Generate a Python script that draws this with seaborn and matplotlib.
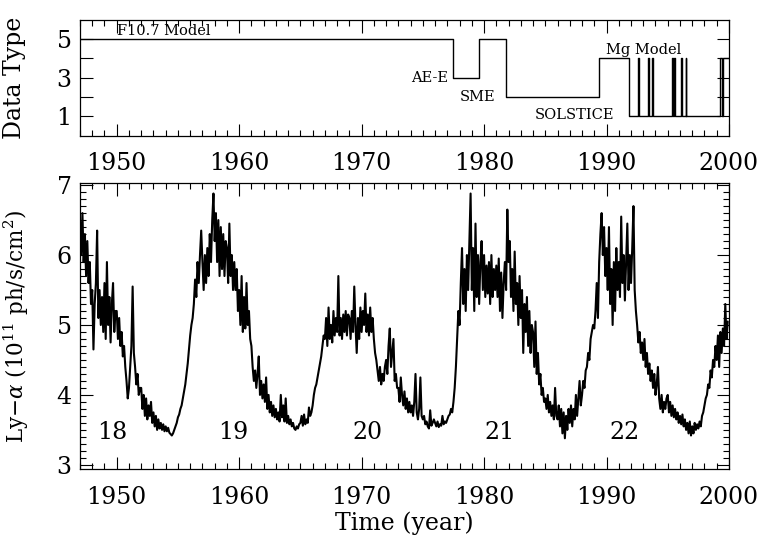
import numpy as np
import matplotlib
matplotlib.use('Agg')
import matplotlib.pyplot as plt
from matplotlib.ticker import MultipleLocator, FixedLocator
import seaborn as sns

# Type de donnees (panneau du haut) : instants de changement et niveau
type_time = [1947.0, 1977.5, 1979.6, 1981.8, 1989.35, 1991.8,
             1992.58, 1992.63, 1993.4, 1993.46, 1993.72, 1993.78,
             1995.38, 1995.43, 1995.55, 1995.6, 1996.12, 1996.17,
             1996.48, 1996.53, 1999.3, 1999.45, 1999.55, 2000.0]
type_val = [5, 3, 5, 2, 4, 1,
            4, 1, 4, 1, 4, 1,
            4, 1, 4, 1, 4, 1,
            4, 1, 4, 1, 4, 4]

# Flux Ly-alpha, 10 valeurs par an (1947.0 -> 1999.9)
lya_flux = [
    6.5, 6.0, 6.6, 5.9, 6.3, 5.7, 6.2, 5.6, 5.9, 5.3,      # 1947
    5.5, 4.65, 5.3, 5.6, 6.35, 5.1, 5.5, 5.0, 5.4, 4.9,    # 1948
    5.6, 4.8, 5.9, 5.0, 5.4, 4.75, 5.3, 5.6, 4.9, 5.2,     # 1949
    5.2, 4.8, 5.1, 4.7, 4.9, 4.55, 4.7, 4.4, 4.2, 3.95,    # 1950
    4.1, 4.4, 4.7, 5.55, 4.6, 4.4, 4.15, 4.3, 4.0, 4.1,    # 1951
    4.1, 3.8, 4.0, 3.7, 3.95, 3.65, 3.85, 3.7, 3.9, 3.6,   # 1952
    3.75, 3.55, 3.7, 3.5, 3.65, 3.52, 3.6, 3.5, 3.58, 3.48,  # 1953
    3.55, 3.48, 3.53, 3.46, 3.44, 3.42, 3.45, 3.5, 3.55, 3.6,  # 1954
    3.68, 3.72, 3.8, 3.85, 3.95, 4.05, 4.15, 4.3, 4.45, 4.65,  # 1955
    4.85, 5.0, 5.1, 5.3, 5.65, 5.4, 5.9, 5.6, 6.0, 6.35,   # 1956
    5.9, 5.5, 6.0, 5.6, 6.1, 5.7, 6.3, 5.9, 6.5, 6.88,     # 1957
    6.2, 6.6, 5.9, 6.5, 5.7, 6.4, 5.8, 6.3, 5.7, 6.2,      # 1958
    6.1, 5.6, 6.45, 5.7, 6.0, 5.5, 5.9, 5.5, 5.8, 5.2,     # 1959
    5.5, 5.0, 5.7, 4.9, 5.4, 4.95, 5.6, 5.0, 5.2, 4.8,     # 1960
    4.7, 4.4, 4.2, 4.35, 4.1, 4.3, 4.55, 4.0, 4.2, 3.95,   # 1961
    4.15, 3.9, 4.25, 3.8, 4.0, 3.75, 3.9, 3.7, 3.85, 3.68,  # 1962
    3.8, 3.65, 3.75, 3.62, 4.0, 3.68, 3.85, 3.62, 3.95, 3.6,  # 1963
    3.7, 3.58, 3.65, 3.55, 3.6, 3.52, 3.5, 3.55, 3.52, 3.58,  # 1964
    3.6, 3.7, 3.56, 3.72, 3.58, 3.65, 3.6, 3.82, 3.7, 3.75,  # 1965
    3.85, 4.0, 4.1, 4.15, 4.25, 4.35, 4.45, 4.55, 4.7, 4.85,  # 1966
    4.8, 5.1, 4.7, 5.25, 4.8, 5.0, 4.75, 5.2, 4.85, 5.1,   # 1967
    4.9, 5.7, 4.85, 5.1, 4.8, 5.15, 4.9, 5.2, 4.85, 5.15,  # 1968
    5.1, 4.8, 5.2, 4.9, 5.55, 5.0, 4.6, 5.1, 4.8, 5.25,    # 1969
    4.9, 5.2, 5.0, 5.45, 4.9, 5.15, 4.85, 5.25, 4.9, 5.1,  # 1970
    4.8, 4.6, 4.5, 4.35, 4.2, 4.4, 4.15, 4.3, 4.2, 4.4,    # 1971
    4.5, 4.3, 4.7, 4.95, 4.4, 4.6, 4.8, 4.2, 4.3, 4.1,     # 1972
    4.1, 3.9, 4.25, 4.0, 3.85, 4.05, 3.8, 3.95, 3.75, 3.9,  # 1973
    3.75, 3.85, 3.7, 3.9, 4.3, 3.75, 3.65, 3.8, 4.25, 3.7,  # 1974
    3.65, 3.7, 3.58, 3.62, 3.55, 3.52, 3.78, 3.56, 3.6, 3.65,  # 1975
    3.6, 3.55, 3.62, 3.54, 3.58, 3.56, 3.7, 3.58, 3.62, 3.6,  # 1976
    3.65, 3.7, 3.72, 3.8, 3.75, 3.9, 4.1, 4.4, 4.8, 5.2,   # 1977
    5.0, 5.6, 6.1, 5.3, 5.8, 5.2, 6.0, 5.5, 6.2, 6.88,     # 1978
    5.5, 6.1, 5.2, 6.45, 5.4, 6.0, 5.3, 5.9, 6.2, 5.5,     # 1979
    6.0, 5.4, 5.85, 5.45, 5.9, 5.3, 6.0, 5.4, 5.8, 5.5,    # 1980
    5.85, 5.4, 5.95, 5.2, 5.75, 5.1, 5.6, 5.9, 5.5, 6.65,  # 1981
    5.9, 6.2, 5.4, 5.8, 5.2, 6.05, 5.3, 5.6, 5.0, 5.7,     # 1982
    5.1, 5.5, 4.6, 5.3, 4.9, 5.4, 4.7, 5.2, 4.6, 5.0,      # 1983
    4.9, 4.4, 5.05, 4.3, 4.6, 4.15, 4.3, 4.0, 4.1, 3.9,    # 1984
    3.95, 3.8, 4.0, 3.75, 3.9, 3.7, 3.85, 3.65, 4.1, 3.7,  # 1985
    3.65, 3.85, 3.55, 3.8, 3.45, 3.75, 3.38, 3.7, 3.5, 3.8,  # 1986
    3.6, 3.85, 3.55, 3.8, 3.65, 4.0, 3.7, 3.95, 4.2, 3.85,  # 1987
    4.0, 4.2, 4.1, 4.35, 4.4, 4.6, 4.5, 4.8, 4.9, 5.0,     # 1988
    4.95, 5.2, 5.6, 5.1, 5.9, 6.3, 6.6, 6.0, 6.4, 5.7,     # 1989
    6.1, 5.5, 6.4, 5.3, 5.8, 5.0, 5.9, 5.2, 6.1, 5.5,      # 1990
    5.9, 5.4, 6.55, 5.6, 6.0, 5.35, 5.9, 6.45, 5.5, 6.0,   # 1991
    5.6, 6.1, 6.7, 5.5, 5.2, 5.0, 4.75, 4.9, 4.6, 4.75,    # 1992
    4.5, 4.8, 4.4, 4.6, 4.3, 4.45, 4.2, 4.35, 4.1, 4.3,    # 1993
    4.0, 4.15, 4.4, 3.95, 3.8, 4.0, 3.75, 3.9, 3.8, 3.95,  # 1994
    4.0, 3.75, 3.9, 3.7, 3.85, 3.68, 3.8, 3.65, 3.75, 3.6,  # 1995
    3.7, 3.58, 3.72, 3.55, 3.65, 3.5, 3.6, 3.45, 3.62, 3.42,  # 1996
    3.55, 3.45, 3.6, 3.5, 3.58, 3.52, 3.62, 3.55, 3.7, 3.75,  # 1997
    3.85, 3.95, 4.0, 4.15, 4.1, 4.35, 4.25, 4.5, 4.4, 4.7,  # 1998
    4.5, 4.85, 4.4, 4.9, 4.6, 4.95, 4.7, 5.3, 4.8, 5.05,   # 1999
]
lya_years = 1947 + np.arange(len(lya_flux)) / 10

# Numeros des cycles solaires
cycle_labels = ['18', '19', '20', '21', '22']
cycle_x = [1949.6, 1959.5, 1970.5, 1981.3, 1991.5]

# Etiquettes des sources de donnees
source_labels = ['F10.7 Model', 'AE-E', 'SME', 'SOLSTICE', 'Mg Model']

sns.set_theme(style='ticks')
plt.rcParams['font.family'] = ['DejaVu Serif']
plt.rcParams['mathtext.fontset'] = 'dejavuserif'
plt.rcParams['text.color'] = 'black'
plt.rcParams['axes.labelcolor'] = 'black'


def style_axis(ax):
    for sp in ax.spines.values():
        sp.set_linewidth(0.9)
        sp.set_color('black')
    ax.tick_params(which='both', direction='in', top=True, right=True,
                   colors='black', labelsize=17, width=0.8)
    ax.tick_params(which='major', length=9)
    ax.tick_params(which='minor', length=4.5)
    ax.tick_params(axis='x', pad=12)
    ax.tick_params(axis='y', pad=6)
    ax.xaxis.set_major_locator(MultipleLocator(10))
    ax.xaxis.set_minor_locator(MultipleLocator(1))
    ax.set_xlim(1947, 2000)


fig = plt.figure(figsize=(7.61, 5.41), dpi=100)
ax1 = fig.add_axes([0.1051, 0.749, 0.8528, 0.2144])
ax2 = fig.add_axes([0.1051, 0.133, 0.8528, 0.5287])

# Panneau du haut : type de donnees
sns.lineplot(x=type_time, y=type_val, ax=ax1, color='black', lw=1.0,
             drawstyle='steps-post', estimator=None, sort=False)
style_axis(ax1)
ax1.set_ylim(0, 6)
ax1.yaxis.set_major_locator(FixedLocator([1, 2, 3, 4, 5]))
ax1.set_yticklabels(['1', '', '3', '', '5'])
ax1.set_ylabel('Data Type', fontsize=17)
ax1.yaxis.set_label_coords(-0.083, 0.5)

fs = 10.5
ax1.text(1950.0, 5.04, source_labels[0], fontsize=fs, ha='left', va='bottom')
ax1.text(1977.1, 3.0, source_labels[1], fontsize=fs, ha='right', va='center')
ax1.text(1979.5, 2.0, source_labels[2], fontsize=fs, ha='center', va='center')
ax1.text(1987.4, 1.05, source_labels[3], fontsize=fs, ha='center', va='center')
ax1.text(1993.0, 4.45, source_labels[4], fontsize=fs, ha='center', va='center')

# Panneau du bas : flux Ly-alpha
sns.lineplot(x=lya_years, y=lya_flux, ax=ax2, color='black', lw=1.5,
             estimator=None)
style_axis(ax2)
ax2.set_ylim(2.94, 7.03)
ax2.yaxis.set_major_locator(MultipleLocator(1))
ax2.yaxis.set_minor_locator(MultipleLocator(0.1))
ax2.set_ylabel(r'Ly$-\alpha$ (10$^{11}$ ph/s/cm$^2$)', fontsize=15.5)
ax2.yaxis.set_label_coords(-0.075, 0.5)
ax2.set_xlabel('Time (year)', fontsize=17, labelpad=2)

for lab, x in zip(cycle_labels, cycle_x):
    ax2.text(x, 3.46, lab, fontsize=17, ha='center', va='center')

fig.savefig('out.png', dpi=100)
